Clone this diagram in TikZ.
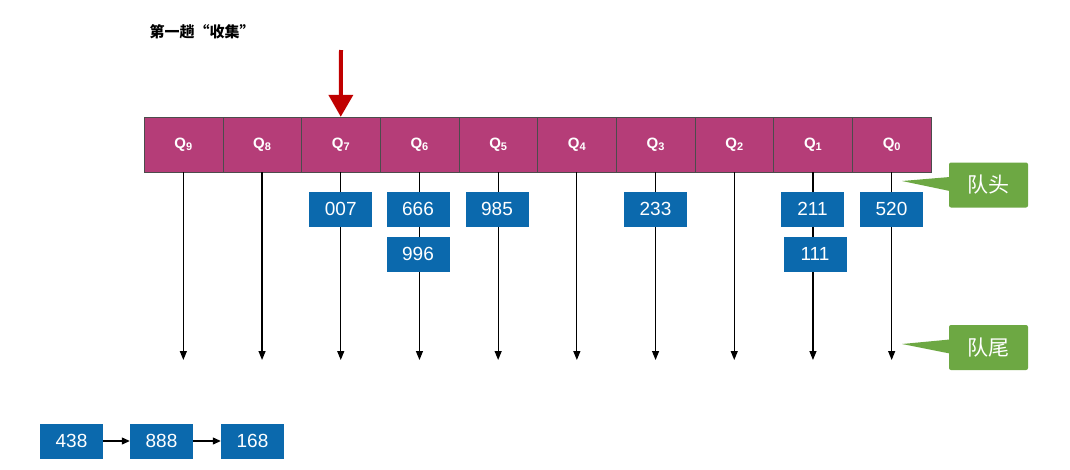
\documentclass[tikz,border=0pt]{standalone}
\usepackage{fontspec}
\setmainfont{Liberation Sans}
\newfontfamily\cjk{Noto Sans CJK SC}
\usetikzlibrary{arrows.meta,calc}
\definecolor{qmag}{HTML}{B53D78}
\definecolor{qblue}{HTML}{0B69AD}
\definecolor{qgreen}{HTML}{6DA843}
\definecolor{qred}{HTML}{C00000}
\tikzset{
 cell/.style={draw=black!70,fill=qmag,minimum width=78.7pt,minimum height=55pt,inner sep=0pt,text=white,font=\bfseries\fontsize{15}{15}\selectfont},
 num/.style={fill=qblue,minimum width=63pt,minimum height=35pt,inner sep=0pt,text=white,font=\fontsize{19}{19}\selectfont},
 tag/.style={fill=qgreen,rounded corners=2pt,minimum width=79pt,minimum height=45pt,inner sep=0pt,text=white,font=\cjk\fontsize{21}{21}\selectfont},
 qline/.style={draw=black,line width=1.2pt,-{Triangle[length=9pt,width=7pt]}},
 link/.style={draw=black,line width=1.2pt,-{Triangle[length=8pt,width=7pt]}}
}
\begin{document}
\begin{tikzpicture}[x=1pt,y=-1pt]
\useasboundingbox (0,0) rectangle (1070,469);
\node[anchor=west,font=\cjk\bfseries\fontsize{15}{15}\selectfont] (title) at (146,32) {第一趟“收集”};
\foreach \i/\x in {9/183.35,8/262.05,7/340.75,6/419.45,5/498.15,4/576.85,3/655.55,2/734.25,1/812.95,0/891.65}{
 \node[cell] (q\i) at (\x,144.5) {Q{\fontsize{11}{11}\selectfont\raisebox{-2pt}{\i}}};
 \coordinate (e\i) at (\x,360);
}
\foreach \i in {9,8,7,6,5,4,3,2,1,0}{ \draw[qline] (q\i.south) -- (e\i); }
\node[num] (n007) at (340.75,209) {007};
\node[num] (n666) at (418,209) {666};
\node[num] (n996) at (418,254) {996};
\node[num] (n985) at (497,209) {985};
\node[num] (n233) at (655.5,209) {233};
\node[num] (n211) at (812.5,209) {211};
\node[num] (n111) at (815,254) {111};
\node[num] (n520) at (891.5,209) {520};
\node[tag] (head) at (988.5,185) {队头};
\node[tag] (tail) at (988.5,347.5) {队尾};
\fill[qgreen] ($(head.west)+(1,-8)$) -- (902,181) -- ($(head.west)+(1,6)$) -- cycle;
\fill[qgreen] ($(tail.west)+(1,-8)$) -- (902,344) -- ($(tail.west)+(1,6)$) -- cycle;
\coordinate (rtop) at (341,50);
\draw[qred,line width=4pt,-{Triangle[length=22pt,width=24pt]}] (rtop) -- (q7.north);
\node[num] (b438) at (71.5,441) {438};
\node[num] (b888) at (161.5,441) {888};
\node[num] (b168) at (252.5,441) {168};
\draw[link] (b438) -- (b888);
\draw[link] (b888) -- (b168);
\end{tikzpicture}
\end{document}
